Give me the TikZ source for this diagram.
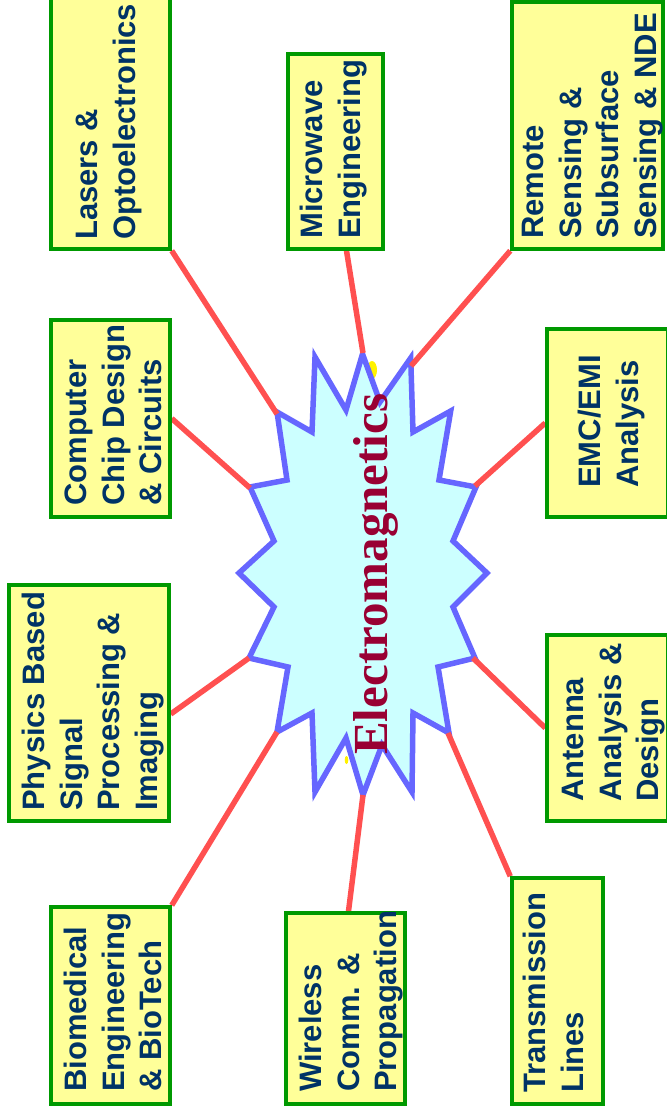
\documentclass[tikz,border=0pt]{standalone}
\usepackage{fontspec}
\setmainfont{Liberation Serif}
\newfontfamily\boxfont{Liberation Sans}
\definecolor{boxfill}{HTML}{FFFF99}
\definecolor{boxline}{HTML}{009900}
\definecolor{boxtext}{HTML}{003366}
\definecolor{linkred}{HTML}{FF5050}
\definecolor{starline}{HTML}{6666FF}
\definecolor{starfill}{HTML}{CCFFFF}
\definecolor{emtext}{HTML}{990033}
\pgfdeclarelayer{back}
\pgfsetlayers{back,main}
\begin{document}
\begin{tikzpicture}[x=1pt,y=-1pt,
  areabox/.style={draw=boxline,fill=boxfill,line width=3.5pt,inner sep=0pt,rectangle},
  areatext/.style={rotate=90,anchor=north west,inner sep=0pt,align=left,text=boxtext,
    font=\boxfont\bfseries\fontsize{31}{37.5}\selectfont},
  link/.style={draw=linkred,line width=5.5pt},
  burst/.style={draw=starline,fill=starfill,line width=5.5pt,line join=miter}]
\useasboundingbox (0,0) rectangle (666,1115);
% burst corners
\coordinate (s1) at (362.5,354); \coordinate (s2) at (380,402);
\coordinate (s3) at (410.7,358); \coordinate (s4) at (413,432);
\coordinate (s5) at (450.7,411); \coordinate (s6) at (439,480);
\coordinate (s7) at (476,487);   \coordinate (s8) at (453,541);
\coordinate (s9) at (487,573);   \coordinate (s10) at (453,607);
\coordinate (s11) at (475,658);  \coordinate (s12) at (438,667);
\coordinate (s13) at (449,733);  \coordinate (s14) at (413,713);
\coordinate (s15) at (412,792);  \coordinate (s16) at (382,745);
\coordinate (s17) at (363,795);  \coordinate (s18) at (346,738);
\coordinate (s19) at (315,792);  \coordinate (s20) at (312,713);
\coordinate (s21) at (277,732);  \coordinate (s22) at (288,667);
\coordinate (s23) at (249,658);  \coordinate (s24) at (274,607);
\coordinate (s25) at (239,573);  \coordinate (s26) at (274,541);
\coordinate (s27) at (250,487);  \coordinate (s28) at (287,480);
\coordinate (s29) at (277,412);  \coordinate (s30) at (312,432);
\coordinate (s31) at (315,357);  \coordinate (s32) at (346,410);
% connector ends on the burst
\coordinate (eLasers) at (277,414);
\coordinate (eMicro) at (363,353);
\coordinate (eRemote) at (411,366);
\coordinate (eChip) at (250,488);
\coordinate (eEmc) at (475,486);
\coordinate (ePhys) at (249,658);
\coordinate (eAnt) at (473,658);
\coordinate (eBio) at (277,732);
\coordinate (eWire) at (363,795);
\coordinate (eTrans) at (448,733);
% boxes
\node[areabox,minimum width=119pt,minimum height=269pt] (lasers) at (110.5,114.5) {};
\node[areabox,minimum width=95pt,minimum height=195pt] (micro) at (335.5,151.5) {};
\node[areabox,minimum width=151pt,minimum height=247pt] (remote) at (587.5,125.5) {};
\node[areabox,minimum width=119pt,minimum height=197pt] (chip) at (110.5,418.5) {};
\node[areabox,minimum width=160pt,minimum height=236pt] (phys) at (89,703) {};
\node[areabox,minimum width=119pt,minimum height=197pt] (bio) at (110.5,1005.5) {};
\node[areabox,minimum width=119pt,minimum height=191pt] (wire) at (345.5,1008.5) {};
\node[areabox,minimum width=121pt,minimum height=188pt] (emc) at (607.5,423) {};
\node[areabox,minimum width=121pt,minimum height=186pt] (ant) at (607.5,728) {};
\node[areabox,minimum width=91pt,minimum height=226pt] (trans) at (557.5,991) {};
\begin{pgfonlayer}{back}
  % small yellow bits behind the burst
  \fill[yellow] (372,370) ellipse [x radius=5, y radius=9];
  \fill[yellow] (346.5,760) ellipse [x radius=1.8, y radius=4];
  \path[burst] (s1) -- (s2) -- (s3) -- (s4) -- (s5) -- (s6) -- (s7) -- (s8) -- (s9) -- (s10)
    -- (s11) -- (s12) -- (s13) -- (s14) -- (s15) -- (s16) -- (s17) -- (s18) -- (s19) -- (s20)
    -- (s21) -- (s22) -- (s23) -- (s24) -- (s25) -- (s26) -- (s27) -- (s28) -- (s29) -- (s30)
    -- (s31) -- (s32) -- cycle;
  % connectors
  \draw[link] (lasers.south east) -- (eLasers);
  \draw[link] ([xshift=11pt]micro.south) -- (eMicro);
  \draw[link] (remote.south west) -- (eRemote);
  \draw[link] (chip.east) -- (eChip);
  \draw[link] (emc.west) -- (eEmc);
  \draw[link] ([yshift=-11pt]phys.east) -- (ePhys);
  \draw[link] (ant.west) -- (eAnt);
  \draw[link] (bio.north east) -- (eBio);
  \draw[link] ([xshift=3pt]wire.north) -- (eWire);
  \draw[link] (trans.north west) -- (eTrans);
\end{pgfonlayer}
\node[rotate=90,anchor=base west,inner sep=0pt,text=emtext,
  font=\bfseries\fontsize{49}{55}\selectfont] (em) at (387,755) {Electromagnetics};
% texts
\node[areatext] (tLasers) at (76,240) {Lasers \&\\Optoelectronics};
\node[areatext] (tMicro) at (300,239) {Microwave\\Engineering};
\node[areatext] (tRemote) at (522,239) {Remote\\Sensing \&\\Subsurface\\Sensing \& NDE};
\node[areatext] (tChip) at (65,506) {Computer\\Chip Design\\\& Circuits};
\node[areatext] (tPhys) at (22,811) {Physics Based\\Signal\\Processing \&\\Imaging};
\node[areatext] (tBio) at (64,1092) {Biomedical\\Engineering\\\& BioTech};
\node[areatext] (tWire) at (299,1092) {Wireless\\Comm. \&\\Propagation};
\node[areatext] (tEmc) at (578,488) {EMC/EMI\\Analysis};
\node[areatext] (tAnt) at (562,802) {Antenna\\Analysis \&\\Design};
\node[areatext] (tTrans) at (523,1093) {Transmission\\Lines};
\end{tikzpicture}
\end{document}
